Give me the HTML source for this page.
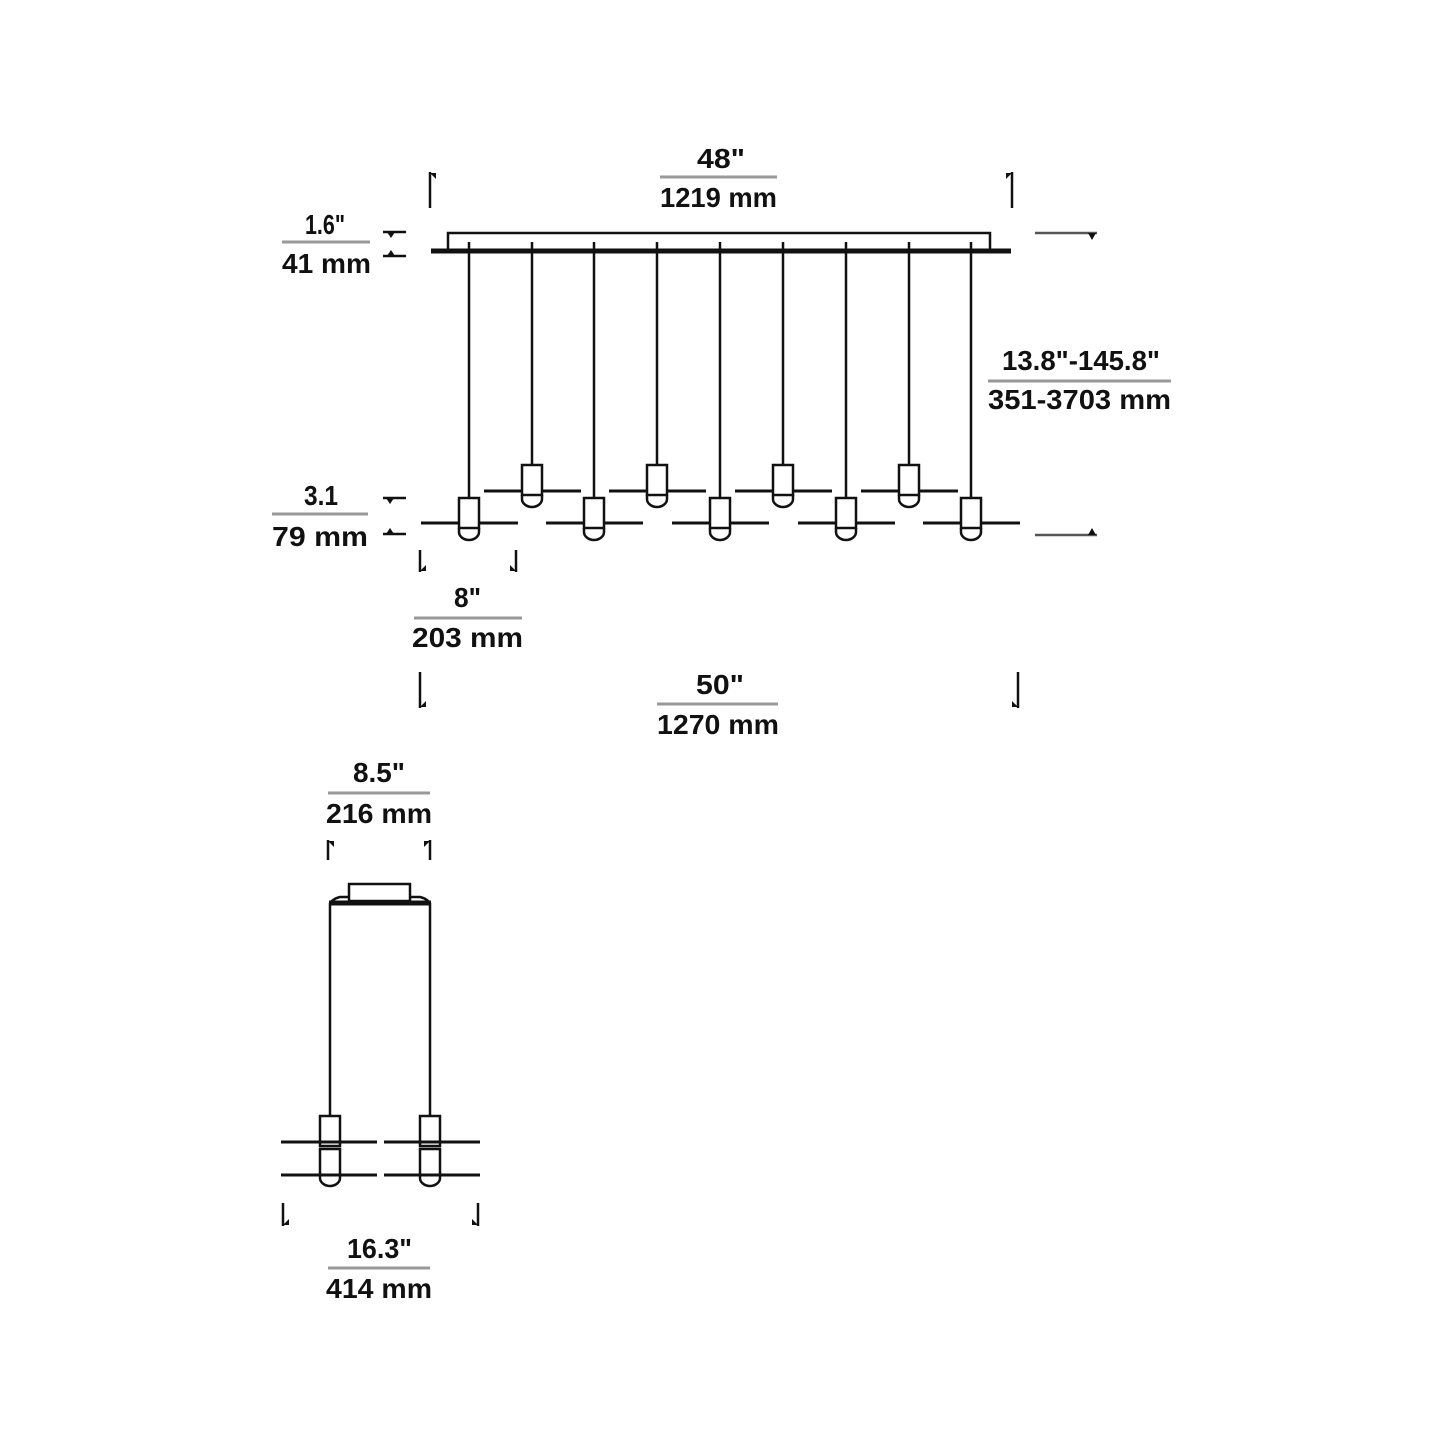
<!DOCTYPE html>
<html><head><meta charset="utf-8"><style>
html,body{margin:0;padding:0;background:#fff;}
svg{display:block;}
text{font-family:"Liberation Sans Narrow","Liberation Sans",sans-serif;font-weight:bold;font-size:28px;fill:#111;}
</style></head><body>
<svg width="1445" height="1445" viewBox="0 0 1445 1445" xmlns="http://www.w3.org/2000/svg">
<defs>
<g id="pend">
<rect x="-10" y="0" width="20" height="30" fill="#fff" stroke="#111" stroke-width="2.5"/>
<path d="M-10 30 v4 a10 8 0 0 0 20 0 v-4" fill="none" stroke="#111" stroke-width="2.5"/>
</g>
</defs>
<g stroke="#111" fill="none">
<path d="M448 251 V233 H990 V251" stroke-width="2.5"/>
<line x1="431" y1="251" x2="1011" y2="251" stroke-width="5"/>
<g stroke-width="2.5">
<line x1="469" y1="242" x2="469" y2="498"/>
<line x1="532" y1="242" x2="532" y2="465"/>
<line x1="594" y1="242" x2="594" y2="498"/>
<line x1="657" y1="242" x2="657" y2="465"/>
<line x1="720" y1="242" x2="720" y2="498"/>
<line x1="783" y1="242" x2="783" y2="465"/>
<line x1="846" y1="242" x2="846" y2="498"/>
<line x1="909" y1="242" x2="909" y2="465"/>
<line x1="971" y1="242" x2="971" y2="498"/>
</g>
<g stroke-width="3">
<line x1="421" y1="523" x2="518" y2="523"/>
<line x1="546" y1="523" x2="643" y2="523"/>
<line x1="672" y1="523" x2="769" y2="523"/>
<line x1="798" y1="523" x2="895" y2="523"/>
<line x1="923" y1="523" x2="1020" y2="523"/>
<line x1="484" y1="491" x2="581" y2="491"/>
<line x1="609" y1="491" x2="706" y2="491"/>
<line x1="735" y1="491" x2="832" y2="491"/>
<line x1="861" y1="491" x2="958" y2="491"/>
</g>
</g>
<use href="#pend" x="469" y="498"/>
<use href="#pend" x="594" y="498"/>
<use href="#pend" x="720" y="498"/>
<use href="#pend" x="846" y="498"/>
<use href="#pend" x="971" y="498"/>
<use href="#pend" x="532" y="465"/>
<use href="#pend" x="657" y="465"/>
<use href="#pend" x="783" y="465"/>
<use href="#pend" x="909" y="465"/>

<g stroke="#111" stroke-width="2.5" fill="#111">
<line x1="430" y1="172" x2="430" y2="208"/><path d="M430 173 h6 v6 z" stroke="none"/>
<line x1="1012" y1="172" x2="1012" y2="208"/><path d="M1012 173 h-6 v6 z" stroke="none"/>
<line x1="420" y1="672" x2="420" y2="708"/><path d="M420 707 h6 v-6 z" stroke="none"/>
<line x1="1018" y1="672" x2="1018" y2="708"/><path d="M1018 707 h-6 v-6 z" stroke="none"/>
<line x1="420" y1="550" x2="420" y2="572"/><path d="M420 571 h6 v-6 z" stroke="none"/>
<line x1="516" y1="550" x2="516" y2="572"/><path d="M516 571 h-6 v-6 z" stroke="none"/>
<line x1="328" y1="840" x2="328" y2="860"/><path d="M328 841 h6 v6 z" stroke="none"/>
<line x1="430" y1="840" x2="430" y2="860"/><path d="M430 841 h-6 v6 z" stroke="none"/>
<line x1="283" y1="1203" x2="283" y2="1226"/><path d="M283 1225 h6 v-6 z" stroke="none"/>
<line x1="478" y1="1203" x2="478" y2="1226"/><path d="M478 1225 h-6 v-6 z" stroke="none"/>
<line x1="1035" y1="233" x2="1097" y2="233" stroke="#555"/><path d="M1088 233 h8 l-4 7 z" stroke="none"/>
<line x1="1035" y1="535" x2="1097" y2="535" stroke="#555"/><path d="M1088 535 h8 l-4 -7 z" stroke="none"/>
<line x1="383" y1="232" x2="406" y2="232"/><path d="M387 232 h8 l-4 6 z" stroke="none"/>
<line x1="383" y1="256" x2="406" y2="256"/><path d="M387 256 h8 l-4 -6 z" stroke="none"/>
<line x1="383" y1="498" x2="406" y2="498"/><path d="M386 498 h8 l-4 6 z" stroke="none"/>
<line x1="383" y1="534" x2="406" y2="534"/><path d="M386 534 h8 l-4 -6 z" stroke="none"/>
</g>
<g stroke="#999" stroke-width="3">
<line x1="660" y1="177" x2="777" y2="177"/>
<line x1="282" y1="242" x2="370" y2="242"/>
<line x1="988" y1="381" x2="1171" y2="381"/>
<line x1="272" y1="514" x2="368" y2="514"/>
<line x1="414" y1="618" x2="522" y2="618"/>
<line x1="657" y1="704" x2="778" y2="704"/>
<line x1="328" y1="793" x2="430" y2="793"/>
<line x1="328" y1="1268" x2="430" y2="1268"/>
</g>
<text x="697" y="168" textLength="48" lengthAdjust="spacingAndGlyphs">48"</text>
<text x="660" y="207" textLength="117" lengthAdjust="spacingAndGlyphs">1219 mm</text>
<text x="305" y="234" textLength="40" lengthAdjust="spacingAndGlyphs">1.6"</text>
<text x="282" y="273" textLength="89" lengthAdjust="spacingAndGlyphs">41 mm</text>
<text x="1002" y="370" textLength="158" lengthAdjust="spacingAndGlyphs">13.8"-145.8"</text>
<text x="988" y="409" textLength="183" lengthAdjust="spacingAndGlyphs">351-3703 mm</text>
<text x="304" y="505" textLength="34" lengthAdjust="spacingAndGlyphs">3.1</text>
<text x="272" y="546" textLength="96" lengthAdjust="spacingAndGlyphs">79 mm</text>
<text x="454" y="607" textLength="27" lengthAdjust="spacingAndGlyphs">8"</text>
<text x="412" y="647" textLength="111" lengthAdjust="spacingAndGlyphs">203 mm</text>
<text x="696" y="694" textLength="48" lengthAdjust="spacingAndGlyphs">50"</text>
<text x="657" y="734" textLength="122" lengthAdjust="spacingAndGlyphs">1270 mm</text>
<text x="353" y="782" textLength="52" lengthAdjust="spacingAndGlyphs">8.5"</text>
<text x="326" y="823" textLength="106" lengthAdjust="spacingAndGlyphs">216 mm</text>
<text x="347" y="1258" textLength="65" lengthAdjust="spacingAndGlyphs">16.3"</text>
<text x="326" y="1298" textLength="106" lengthAdjust="spacingAndGlyphs">414 mm</text>

<g stroke="#111" fill="none" stroke-width="2.5">
<rect x="349" y="884" width="61" height="17" fill="#fff"/>
<path d="M330 904 Q332 899 340 897 L349 897 M410 897 L420 897 Q428 899 430 904" />
<line x1="329" y1="903" x2="431" y2="903" stroke-width="5"/>
<line x1="330" y1="903" x2="330" y2="1116"/>
<line x1="430" y1="903" x2="430" y2="1116"/>
<line x1="281" y1="1142" x2="377" y2="1142" stroke-width="3"/>
<line x1="384" y1="1142" x2="480" y2="1142" stroke-width="3"/>
<line x1="281" y1="1175" x2="377" y2="1175" stroke-width="3"/>
<line x1="384" y1="1175" x2="480" y2="1175" stroke-width="3"/>
<rect x="320" y="1116" width="20" height="30"/>
<rect x="420" y="1116" width="20" height="30"/>
<path d="M320 1149 V1178 a10 8 0 0 0 20 0 V1149 Z"/>
<path d="M420 1149 V1178 a10 8 0 0 0 20 0 V1149 Z"/>
</g>
</svg>
</body></html>
